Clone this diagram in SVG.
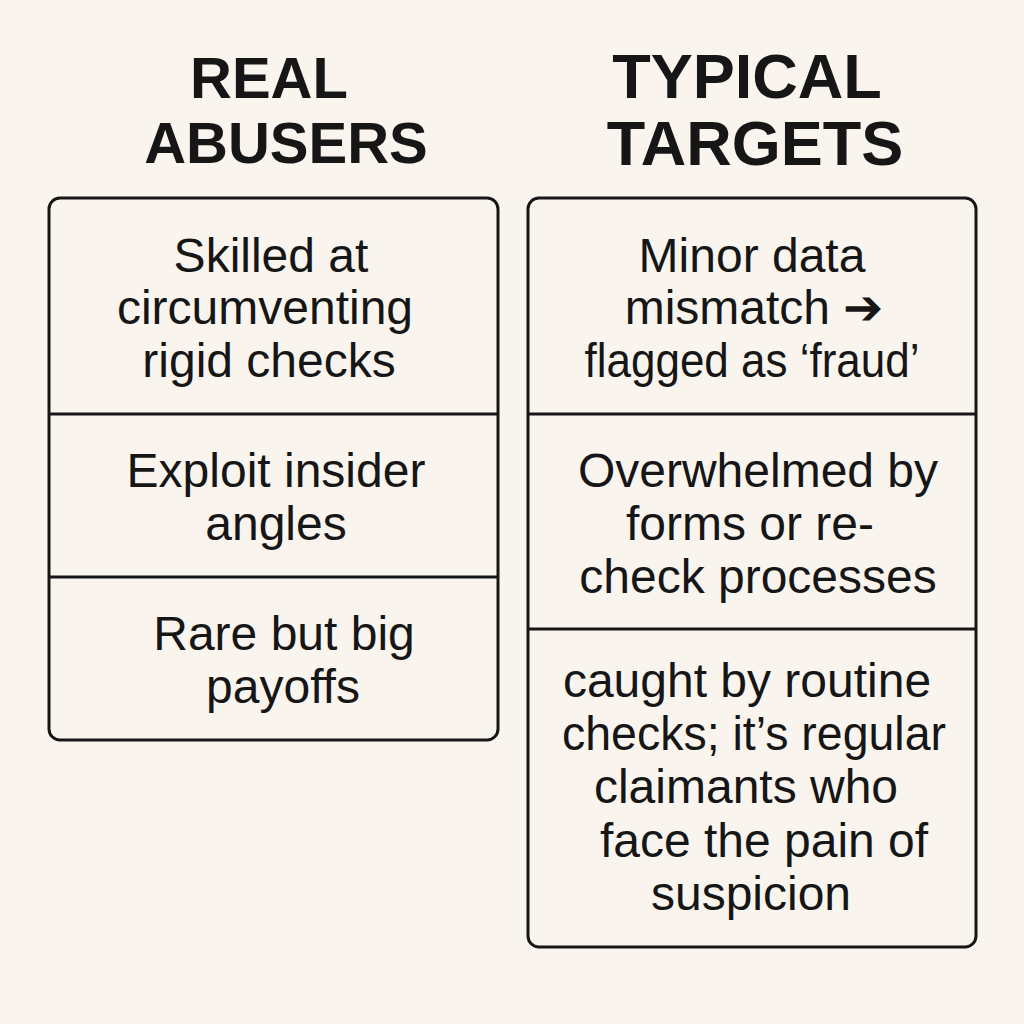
<svg xmlns="http://www.w3.org/2000/svg" width="1024" height="1024" viewBox="0 0 1024 1024">
<style>
.title{font-family:"Liberation Sans",Arial,sans-serif;font-weight:700;fill:#161616;text-anchor:middle}
.tl{font-size:58px}
.tr{font-size:63px}
.body{font-family:"Liberation Sans",Arial,sans-serif;font-weight:400;font-size:48px;fill:#161616;text-anchor:middle}
.box{fill:#faf4ee;stroke:#161616;stroke-width:3}
.div{stroke:#161616;stroke-width:3}
</style>
<rect width="1024" height="1024" fill="#faf4ee"/>
<g id="title-left">
<text class="title tl" x="269" y="98">REAL</text>
<text class="title tl" x="286" y="163">ABUSERS</text>
</g>
<g id="title-right">
<text class="title tr" x="747" y="98">TYPICAL</text>
<text class="title tr" x="755" y="165">TARGETS</text>
</g>
<g id="left-column">
<rect class="box" x="49" y="198" width="449" height="542" rx="11"/>
<line class="div" x1="49" y1="414" x2="498" y2="414"/>
<line class="div" x1="49" y1="577" x2="498" y2="577"/>
</g>
<g id="left-1">
<text class="body" x="271" y="272">Skilled at</text>
<text class="body" x="265" y="324">circumventing</text>
<text class="body" x="269" y="377">rigid checks</text>
</g>
<g id="left-2">
<text class="body" x="276" y="487">Exploit insider</text>
<text class="body" x="276" y="540">angles</text>
</g>
<g id="left-3">
<text class="body" x="284" y="650">Rare but big</text>
<text class="body" x="283" y="703">payoffs</text>
</g>
<g id="right-column">
<rect class="box" x="528" y="198" width="448" height="749" rx="11"/>
<line class="div" x1="528" y1="414" x2="976" y2="414"/>
<line class="div" x1="528" y1="629" x2="976" y2="629"/>
</g>
<g id="right-1">
<text class="body" x="752" y="272">Minor data</text>
<text class="body" x="754" y="324">mismatch ➔</text>
<text class="body" x="752" y="377" textLength="335" lengthAdjust="spacingAndGlyphs">flagged as ‘fraud’</text>
</g>
<g id="right-2">
<text class="body" x="758" y="487">Overwhelmed by</text>
<text class="body" x="750" y="540">forms or re-</text>
<text class="body" x="758" y="593">check processes</text>
</g>
<g id="right-3">
<text class="body" x="747" y="697">caught by routine</text>
<text class="body" x="754" y="750" textLength="384" lengthAdjust="spacingAndGlyphs">checks; it’s regular</text>
<text class="body" x="746" y="803">claimants who</text>
<text class="body" x="764" y="857">face the pain of</text>
<text class="body" x="751" y="910">suspicion</text>
</g>
<g id="connectors"></g>
</svg>
